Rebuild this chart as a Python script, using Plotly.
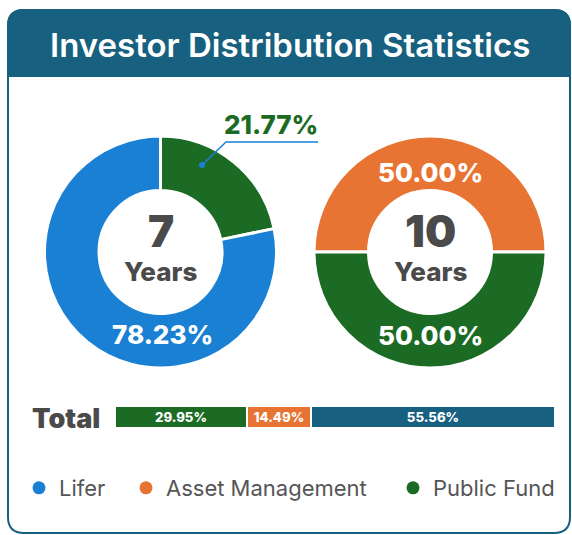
import plotly.graph_objects as go

# ---------------- data ----------------
periods = ["7", "10"]
period_unit = "Years"
left_labels = ["Public Fund", "Lifer"]
left_values = [21.77, 78.23]
right_labels = ["Asset Management", "Public Fund"]
right_values = [50.00, 50.00]
total_labels = ["Public Fund", "Asset Management", "Lifer-total"]
total_values = [29.95, 14.49, 55.56]
legend_labels = ["Lifer", "Asset Management", "Public Fund"]
title_text = "Investor Distribution Statistics"

# ---------------- styles ----------------
W, H = 572, 535
TEAL = "#17607f"
BLUE = "#1a80d4"
ORANGE = "#e87434"
GREEN = "#1b6b24"
DARK = "#4a4a4a"
FONT = "Inter"
colors = {"Lifer": BLUE, "Asset Management": ORANGE, "Public Fund": GREEN, "Lifer-total": TEAL}


def px(x):
    return x / W


def py(y):
    return 1 - y / H


fig = go.Figure()

# donuts
left_c, right_c, R = (160.5, 252), (430, 252), 116
fig.add_trace(go.Pie(
    labels=left_labels, values=left_values, sort=False, direction="clockwise", rotation=0,
    hole=0.53, textinfo="none", hoverinfo="label+percent",
    marker=dict(colors=[colors[l] for l in left_labels], line=dict(color="white", width=3)),
    domain=dict(x=[px(left_c[0] - R), px(left_c[0] + R)], y=[py(left_c[1] + R), py(left_c[1] - R)]),
    showlegend=False,
))
fig.add_trace(go.Pie(
    labels=right_labels, values=right_values, sort=False, direction="clockwise", rotation=270,
    hole=0.53, textinfo="none", hoverinfo="label+percent",
    marker=dict(colors=[colors[l] for l in right_labels], line=dict(color="white", width=3)),
    domain=dict(x=[px(right_c[0] - R), px(right_c[0] + R)], y=[py(right_c[1] + R), py(right_c[1] - R)]),
    showlegend=False,
))

# total stacked bar
for lab, val in zip(total_labels, total_values):
    fig.add_trace(go.Bar(
        x=[val], y=["Total"], orientation="h", width=1,
        marker=dict(color=colors[lab], line=dict(color="white", width=2)),
        text=[f"{val:.2f}%"], textposition="inside", insidetextanchor="middle", textangle=0,
        textfont=dict(family=FONT, size=14, color="white", weight=800),
        showlegend=False, hoverinfo="x",
    ))

# legend entries (each in its own legend box so they can be spaced like the original)
legend_ids = ["legend", "legend2", "legend3"]
legend_x = [19, 126, 393]
for lab, lid in zip(legend_labels, legend_ids):
    fig.add_trace(go.Scatter(
        x=[None], y=[None], mode="markers", name=lab, legend=lid,
        marker=dict(color=colors[lab], size=13, symbol="circle"),
    ))

shapes = []
# card
x0, x1, y0, y1, r = 8, 570, 10, 533, 16
card_path = (f"M {px(x0)},{py(y0 + r)} L {px(x0)},{py(y1 - r)} Q {px(x0)},{py(y1)} {px(x0 + r)},{py(y1)} "
             f"L {px(x1 - r)},{py(y1)} Q {px(x1)},{py(y1)} {px(x1)},{py(y1 - r)} "
             f"L {px(x1)},{py(y0 + r)} Q {px(x1)},{py(y0)} {px(x1 - r)},{py(y0)} "
             f"L {px(x0 + r)},{py(y0)} Q {px(x0)},{py(y0)} {px(x0)},{py(y0 + r)} Z")
shapes.append(dict(type="path", xref="paper", yref="paper", path=card_path,
                   line=dict(color=TEAL, width=2), fillcolor="white", layer="below"))
hy = 76
head_path = (f"M {px(x0)},{py(hy)} L {px(x0)},{py(y0 + r)} Q {px(x0)},{py(y0)} {px(x0 + r)},{py(y0)} "
             f"L {px(x1 - r)},{py(y0)} Q {px(x1)},{py(y0)} {px(x1)},{py(y0 + r)} L {px(x1)},{py(hy)} Z")
shapes.append(dict(type="path", xref="paper", yref="paper", path=head_path,
                   line=dict(color=TEAL, width=2), fillcolor=TEAL, layer="below"))
# leader line for the small slice
shapes.append(dict(type="path", xref="paper", yref="paper",
                   path=f"M {px(202)},{py(165)} L {px(226)},{py(142)} L {px(318)},{py(142)}",
                   line=dict(color=BLUE, width=1.5)))
shapes.append(dict(type="circle", xref="paper", yref="paper",
                   x0=px(199), x1=px(205), y0=py(168), y1=py(162),
                   fillcolor=BLUE, line=dict(color=BLUE, width=0)))


def note(text, x, y, size, color, weight, xanchor="center"):
    return dict(text=text, x=px(x), y=py(y), xref="paper", yref="paper", showarrow=False,
                xanchor=xanchor, yanchor="middle",
                font=dict(family=FONT, size=size, color=color, weight=weight))


ann = [note(title_text, 290, 45, 33, "white", 600)]
# centre texts
for c, p in zip([left_c, right_c], periods):
    ann.append(note(p, c[0], c[1] - 21, 44, DARK, 900))
    ann.append(note(period_unit, c[0], c[1] + 19, 26, DARK, 800))
# slice labels
ann.append(note(f"{left_values[1]:.2f}%", 162, 334, 26, "white", 800))
ann.append(note(f"{left_values[0]:.2f}%", 271, 124, 26, GREEN, 800))
ann.append(note(f"{right_values[0]:.2f}%", 430, 172, 26, "white", 800))
ann.append(note(f"{right_values[1]:.2f}%", 430, 335, 26, "white", 800))
ann.append(note("Total", 30, 418, 27, DARK, 900, xanchor="left"))

legend_common = dict(orientation="h", yanchor="middle", xanchor="left", y=py(488),
                     font=dict(family=FONT, size=22, color="#555555"), bgcolor="rgba(0,0,0,0)",
                     itemclick=False, itemdoubleclick=False, traceorder="normal")

fig.update_layout(
    width=W, height=H, margin=dict(l=0, r=0, t=0, b=0),
    paper_bgcolor="white", plot_bgcolor="rgba(0,0,0,0)",
    barmode="stack", bargap=0,
    xaxis=dict(domain=[px(115), px(555)], range=[0, sum(total_values)], visible=False, fixedrange=True),
    yaxis=dict(domain=[py(428), py(406)], range=[-0.5, 0.5], visible=False, fixedrange=True),
    shapes=shapes, annotations=ann,
    legend=dict(x=px(legend_x[0]), **legend_common),
    legend2=dict(x=px(legend_x[1]), **legend_common),
    legend3=dict(x=px(legend_x[2]), **legend_common),
    uniformtext=dict(mode="show", minsize=10),
)

fig.write_html("out.html", config={"displayModeBar": False},
               post_script="document.body.style.margin='0';document.body.style.padding='0';")
